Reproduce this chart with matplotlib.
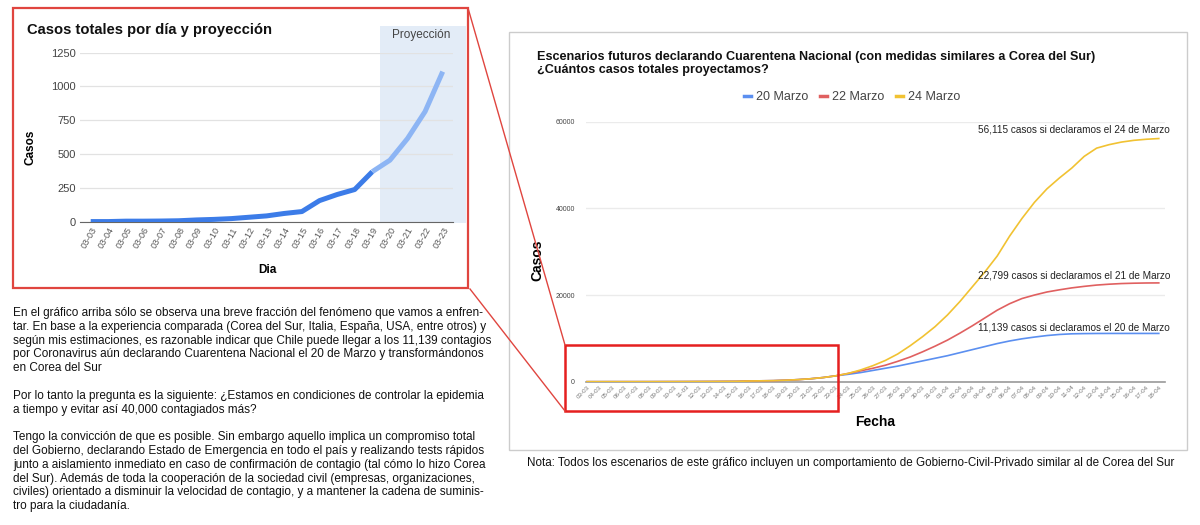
import matplotlib.pyplot as plt
from matplotlib.lines import Line2D
from matplotlib.patches import Rectangle

plt.rcParams['font.family'] = ['Liberation Sans', 'DejaVu Sans']

# left chart: total cases per day (observed + projection)
dias = ['03-03', '03-04', '03-05', '03-06', '03-07', '03-08', '03-09', '03-10',
        '03-11', '03-12', '03-13', '03-14', '03-15', '03-16', '03-17', '03-18',
        '03-19', '03-20', '03-21', '03-22', '03-23']
casos_obs = [1, 1, 4, 4, 5, 7, 13, 17, 23, 33, 43, 61, 75, 156, 201, 238, 370]
casos_proy = [370, 455, 615, 815, 1110]

# right chart: scenarios
fechas = ['03-03', '04-03', '05-03', '06-03', '07-03', '08-03', '09-03', '10-03',
          '11-03', '12-03', '13-03', '14-03', '15-03', '16-03', '17-03', '18-03',
          '19-03', '20-03', '21-03', '22-03', '23-03', '24-03', '25-03', '26-03',
          '27-03', '28-03', '29-03', '30-03', '31-03', '01-04', '02-04', '03-04',
          '04-04', '05-04', '06-04', '07-04', '08-04', '09-04', '10-04', '11-04',
          '12-04', '13-04', '14-04', '15-04', '16-04', '17-04', '18-04']
base = [1, 1, 4, 4, 5, 7, 13, 17, 23, 33, 43, 61, 75, 156, 201, 238, 342, 480,
        680, 960, 1350]
marzo20 = base + [1700, 2100, 2600, 3100, 3600, 4200, 4800, 5400, 6000, 6700,
                  7400, 8100, 8800, 9400, 9900, 10300, 10650, 10900, 11050,
                  11100, 11130, 11139, 11139, 11139, 11139, 11139]
marzo22 = base + [1900, 2500, 3100, 3800, 4700, 5700, 6900, 8200, 9600, 11200,
                  12900, 14700, 16500, 18000, 19200, 20000, 20700, 21200, 21650,
                  22000, 22300, 22500, 22650, 22730, 22780, 22799]
marzo24 = base + [1900, 2700, 3700, 4900, 6400, 8300, 10400, 12700, 15400,
                  18500, 21900, 25300, 29000, 33600, 37700, 41400, 44500, 47000,
                  49300, 52000, 53900, 54700, 55300, 55700, 55950, 56115]

notas = ['56,115 casos si declaramos el 24 de Marzo',
         '22,799 casos si declaramos el 21 de Marzo',
         '11,139 casos si declaramos el 20 de Marzo']

parrafo = [
    'En el gráfico arriba sólo se observa una breve fracción del fenómeno que vamos a enfren-',
    'tar. En base a la experiencia comparada (Corea del Sur, Italia, España, USA, entre otros) y',
    'según mis estimaciones, es razonable indicar que Chile puede llegar a los 11,139 contagios',
    'por Coronavirus aún declarando Cuarentena Nacional el 20 de Marzo y transformándonos',
    'en Corea del Sur',
    '',
    'Por lo tanto la pregunta es la siguiente: ¿Estamos en condiciones de controlar la epidemia',
    'a tiempo y evitar así 40,000 contagiados más?',
    '',
    'Tengo la convicción de que es posible. Sin embargo aquello implica un compromiso total',
    'del Gobierno, declarando Estado de Emergencia en todo el país y realizando tests rápidos',
    'junto a aislamiento inmediato en caso de confirmación de contagio (tal cómo lo hizo Corea',
    'del Sur). Además de toda la cooperación de la sociedad civil (empresas, organizaciones,',
    'civiles) orientado a disminuir la velocidad de contagio, y a mantener la cadena de suminis-',
    'tro para la ciudadanía.',
]

W, H = 1200, 525


def fx(x):
    return x / W


def fy(y):
    return 1 - y / H


fig = plt.figure(figsize=(12, 5.25), dpi=100)

# ---- left chart ----
ax1 = fig.add_axes([fx(80), fy(221.7), 373 / W, 169 / H])
x_obs = list(range(len(casos_obs)))
x_proj = list(range(len(casos_obs) - 1, len(dias)))
ax1.axvspan(16.44, 21.33, ymin=-0.01, ymax=1.158, color='#e3ecf7',
            clip_on=False, zorder=0, lw=0)
ax1.plot(x_obs, casos_obs, color='#3c7ce8', lw=3.6, solid_capstyle='butt',
         solid_joinstyle='round', zorder=3)
ax1.plot(x_proj, casos_proy, color='#8db5f4', lw=3.6, solid_capstyle='butt',
         solid_joinstyle='round', zorder=3)
ax1.set_xlim(-0.608, 20.585)
ax1.set_ylim(0, 1250)
ax1.set_yticks([0, 250, 500, 750, 1000, 1250])
ax1.set_xticks(range(len(dias)))
ax1.set_xticklabels(dias, rotation=60, ha='right', rotation_mode='anchor',
                    fontsize=6.5, color='#555555')
ax1.tick_params(axis='y', labelsize=8, colors='#444444', length=0, pad=3)
ax1.tick_params(axis='x', length=0, pad=3)
ax1.grid(axis='y', color='#e2e2e2', lw=0.9)
ax1.set_axisbelow(True)
for s in ['top', 'right', 'left']:
    ax1.spines[s].set_visible(False)
ax1.spines['bottom'].set_color('#666666')
ax1.spines['bottom'].set_zorder(2)
ax1.set_ylabel('Casos', fontsize=8.5, fontweight='bold')
ax1.yaxis.set_label_coords((37 - 80) / 373, 0.44)
ax1.set_xlabel('Dia', fontsize=8.5, fontweight='bold')
ax1.xaxis.set_label_coords((267 - 80) / 373, -(264 - 221.7) / 169)
fig.text(fx(27), fy(30), 'Casos totales por día y proyección', fontsize=10.6,
         fontweight='bold', va='center', color='#111111')
fig.text(fx(421), fy(35), 'Proyección', fontsize=8.5, ha='center',
         va='center', color='#444444')

fig.add_artist(Rectangle((fx(13), fy(288)), fx(455), 280 / H, fill=False,
                         ec='#e0453f', lw=1.6, transform=fig.transFigure))

# ---- paragraphs ----
for i, linea in enumerate(parrafo):
    fig.text(fx(13), fy(313 + i * 13.8), linea, fontsize=8.45, va='center',
             color='#111111')

# ---- right chart ----
fig.add_artist(Rectangle((fx(509), fy(450)), fx(678), 418 / H, fill=False,
                         ec='#cccccc', lw=1, transform=fig.transFigure))
ax2 = fig.add_axes([fx(586), fy(381.7), 579 / W, 260 / H])
xd = range(len(fechas))
ax2.plot(xd, marzo20, color='#5b8ff0', lw=1.2, label='20 Marzo', zorder=3)
ax2.plot(xd, marzo22, color='#e06060', lw=1.2, label='22 Marzo', zorder=3)
ax2.plot(xd, marzo24, color='#f1c232', lw=1.2, label='24 Marzo', zorder=3)
ax2.set_xlim(-0.08, 46.5)
ax2.set_ylim(0, 60000)
ax2.set_yticks([0, 20000, 40000, 60000])
ax2.set_xticks(list(xd))
ax2.set_xticklabels(fechas, rotation=45, ha='right', rotation_mode='anchor',
                    fontsize=4.5, color='#777777')
ax2.tick_params(axis='y', labelsize=5, colors='#444444', length=0, pad=8)
ax2.tick_params(axis='x', length=0, pad=2)
ax2.grid(axis='y', color='#ebebeb', lw=1)
ax2.set_axisbelow(True)
for s in ['top', 'right', 'left']:
    ax2.spines[s].set_visible(False)
ax2.spines['bottom'].set_color('#999999')
ax2.spines['bottom'].set_linewidth(1.2)
ax2.set_ylabel('Casos', fontsize=10, fontweight='bold')
ax2.yaxis.set_label_coords((544 - 586) / 579, (381.7 - 260) / 260)
ax2.set_xlabel('Fecha', fontsize=10, fontweight='bold')
ax2.xaxis.set_label_coords((875 - 586) / 579, -(415 - 381.7) / 260)

nota_y = [58085, 24600, 12620]
for txt, yv in zip(notas, nota_y):
    ax2.text(46.9, yv, txt, fontsize=7.2, ha='right', va='center',
             color='#222222')

fig.text(fx(537), fy(57), 'Escenarios futuros declarando Cuarentena Nacional '
         '(con medidas similares a Corea del Sur)', fontsize=9.1,
         fontweight='bold', va='center', color='#111111')
fig.text(fx(537), fy(70), '¿Cuántos casos totales proyectamos?', fontsize=9.1,
         fontweight='bold', va='center', color='#111111')
handles = [Line2D([], [], color=c, lw=2.5) for c in
           ['#5b8ff0', '#e06060', '#f1c232']]
fig.legend(handles, ['20 Marzo', '22 Marzo', '24 Marzo'], loc='center',
           bbox_to_anchor=(fx(852), fy(97)), ncol=3, frameon=False,
           handlelength=0.5, handletextpad=0.4, columnspacing=1.0,
           fontsize=9, labelcolor='#444444')

fig.text(fx(851), fy(463), 'Nota: Todos los escenarios de este gráfico incluyen '
         'un comportamiento de Gobierno-Civil-Privado similar al de Corea del Sur',
         fontsize=8.4, ha='center', va='center', color='#111111')

# zoom box and connectors
fig.add_artist(Rectangle((fx(565), fy(411)), fx(273), 66 / H, fill=False,
                         ec='#e51f1f', lw=1.8, transform=fig.transFigure))
fig.add_artist(Line2D([fx(468), fx(565)], [fy(8), fy(345)], color='#e0453f',
                      lw=1, transform=fig.transFigure))
fig.add_artist(Line2D([fx(470), fx(565)], [fy(289), fy(411)], color='#e0453f',
                      lw=1, transform=fig.transFigure))

fig.savefig('out.png', dpi=100)
